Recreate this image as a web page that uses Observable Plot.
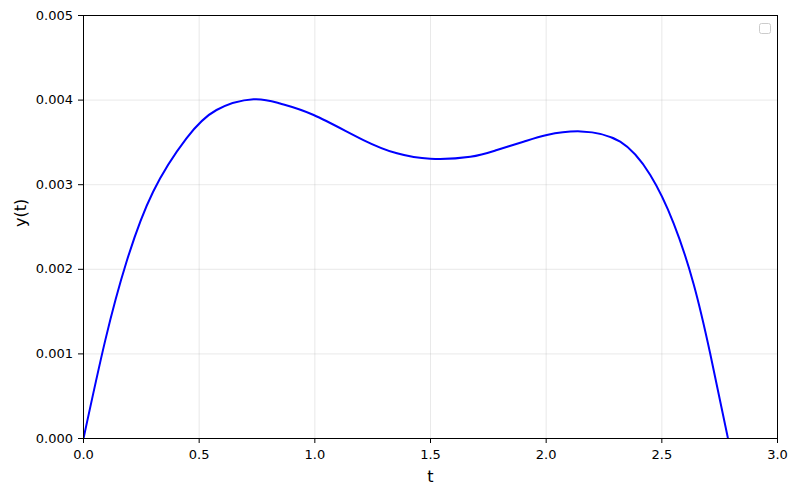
<!DOCTYPE html>
<html>
<head>
<meta charset="utf-8">
<script src="https://cdn.jsdelivr.net/npm/d3@7"></script>
<script src="https://cdn.jsdelivr.net/npm/@observablehq/plot@0.6"></script>
<style>
  html, body { margin: 0; padding: 0; background: #fff; }
  svg { display: block; }
</style>
</head>
<body>
<div id="chart"></div>
<script>
const tValues = [0, 0.094, 0.186, 0.301, 0.445, 0.575, 0.735, 0.85, 0.995, 1.21, 1.355, 1.499, 1.672, 1.787, 1.902, 2.003, 2.15, 2.32, 2.45, 2.551, 2.637, 2.709, 2.786];
const yValues = [0, 0.00116, 0.002089, 0.002917, 0.003548, 0.003883, 0.00401, 0.00396, 0.003824, 0.003528, 0.003371, 0.003307, 0.00333, 0.00341, 0.003508, 0.003587, 0.00363, 0.003508, 0.003114, 0.002543, 0.00183, 0.001005, 0];
const xTicks = [0, 0.5, 1.0, 1.5, 2.0, 2.5, 3.0];
const yTicks = [0, 0.001, 0.002, 0.003, 0.004, 0.005];
const xLabel = "t";
const yLabel = "y(t)";

const data = tValues.map((t, i) => ({t, y: yValues[i]}));

const chart = Plot.plot({
  width: 798,
  height: 495,
  marginLeft: 83,
  marginRight: 21,
  marginTop: 15,
  marginBottom: 57,
  style: {fontFamily: "DejaVu Sans", fontSize: "13px", background: "#fff", color: "#000"},
  x: {domain: [0, 3]},
  y: {domain: [0, 0.005]},
  marks: [
    Plot.gridX(xTicks, {stroke: "#b0b0b0", strokeOpacity: 0.35, strokeWidth: 0.8}),
    Plot.gridY(yTicks, {stroke: "#b0b0b0", strokeOpacity: 0.35, strokeWidth: 0.8}),
    Plot.line(data, {x: "t", y: "y", stroke: "#0000ff", strokeWidth: 2, curve: "natural", clip: true}),
    Plot.axisX(xTicks, {tickFormat: d3.format(".1f"), tickSize: 5, tickPadding: 6.5, label: null, fontSize: 13, stroke: "#000"}),
    Plot.axisY(yTicks, {tickFormat: d3.format(".3f"), tickSize: 5, tickPadding: 5.5, label: null, fontSize: 13, stroke: "#000"}),
    Plot.text([xLabel], {frameAnchor: "bottom", dy: 43, fontSize: 16, fill: "#000"}),
    Plot.text([yLabel], {frameAnchor: "left", dx: -63, rotate: -90, fontSize: 16, fill: "#000"}),
    Plot.frame({stroke: "#000", strokeWidth: 1})
  ]
});

document.getElementById("chart").appendChild(chart);

// empty legend box (matplotlib-style) in upper right
const svg = d3.select(chart);
svg.append("rect")
  .attr("x", 759.5).attr("y", 23.5)
  .attr("width", 11).attr("height", 10)
  .attr("rx", 2).attr("ry", 2)
  .attr("fill", "#fff").attr("stroke", "#cccccc").attr("stroke-width", 1);
</script>
</body>
</html>
